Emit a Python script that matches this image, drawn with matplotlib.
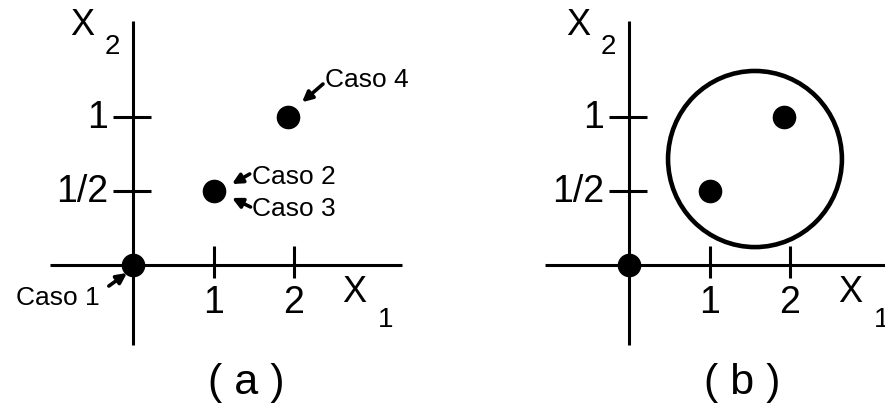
import matplotlib.pyplot as plt
from matplotlib.patches import Ellipse

plt.rcParams['font.family'] = ['Liberation Sans', 'DejaVu Sans']

# puntos de entrada (x1, x2)
x1_pts = [0, 1, 1.93]
x2_pts = [0, 0.5, 1]

x1_ticks = [1, 2]
x1_tick_labels = ["1", "2"]
x2_ticks = [0.5, 1]
x2_tick_labels = ["1/2", "1"]

# etiquetas de casos del panel (a): texto, punto señalado, cola de la flecha, posición del texto
casos = ["Caso 1", "Caso 2", "Caso 3", "Caso 4"]
casos_punta = [(-0.075, -0.054), (1.23, 0.547), (1.23, 0.453), (2.10, 1.10)]
casos_cola = [(-0.30, -0.142), (1.45, 0.615), (1.46, 0.392), (2.36, 1.223)]
casos_texto = [(-0.41, -0.216), (1.48, 0.601), (1.48, 0.385), (2.385, 1.257)]
casos_ha = ["right", "left", "left", "left"]

# región que agrupa los dos puntos del panel (b)
circulo_centro = (1.565, 0.716)
circulo_ancho = 2.16
circulo_alto = 1.19

W, H = 885, 406
SX, SY = 80.5, 148.0   # pixeles por unidad
OY = 266               # altura del origen (desde arriba)


def crear_panel(fig, left_px, width_px, origen_px):
    ax = fig.add_axes([left_px / W, 0, width_px / W, 1])
    ax.set_xlim(-(origen_px - left_px) / SX, (left_px + width_px - origen_px) / SX)
    ax.set_ylim(-(H - OY) / SY, OY / SY)
    ax.axis("off")
    return ax


def dibujar_ejes(ax, x_izq, x_der):
    k = dict(color="black", lw=2.2, solid_capstyle="butt")
    ax.plot([x_izq, x_der], [0, 0], **k)
    ax.plot([0, 0], [-0.54, 1.65], **k)
    for t, lab in zip(x1_ticks, x1_tick_labels):
        ax.plot([t, t], [-0.088, 0.128], **k)
        ax.text(t, -0.25, lab, ha="center", va="center", fontsize=27)
    for t, lab in zip(x2_ticks, x2_tick_labels):
        ax.plot([-0.25, 0.22], [t, t], **k)
        ax.text(-0.31, t, lab, ha="right", va="center", fontsize=27)
    ax.text(-0.634, 1.628, "X", ha="center", va="center", fontsize=26)
    ax.text(-0.26, 1.48, "2", ha="center", va="center", fontsize=20)
    ax.text(2.745, -0.182, "X", ha="center", va="center", fontsize=26)
    ax.text(3.14, -0.365, "1", ha="center", va="center", fontsize=20)
    ax.plot(x1_pts, x2_pts, "o", color="black", markersize=16, zorder=5)


fig = plt.figure(figsize=(W / 100, H / 100), dpi=100)

# panel (a)
ax_a = crear_panel(fig, 0, 442, 133)
dibujar_ejes(ax_a, -1.03, 3.34)
for nombre, punta, cola, pos, ha in zip(casos, casos_punta, casos_cola, casos_texto, casos_ha):
    ax_a.annotate("", xy=punta, xytext=cola,
                  arrowprops=dict(arrowstyle="-|>", lw=2.6, color="black",
                                  mutation_scale=15, shrinkA=0, shrinkB=0))
    ax_a.text(pos[0], pos[1], nombre, ha=ha, va="center", fontsize=19)
ax_a.text(1.41, -0.79, "( a )", ha="center", va="center", fontsize=31)

# panel (b)
ax_b = crear_panel(fig, 442, 443, 629)
dibujar_ejes(ax_b, -1.04, 3.3)
ax_b.add_patch(Ellipse(circulo_centro, circulo_ancho, circulo_alto,
                       fill=False, lw=3.3, edgecolor="black"))
ax_b.text(1.40, -0.79, "( b )", ha="center", va="center", fontsize=31)

fig.savefig("out.png", dpi=100, facecolor="white")
